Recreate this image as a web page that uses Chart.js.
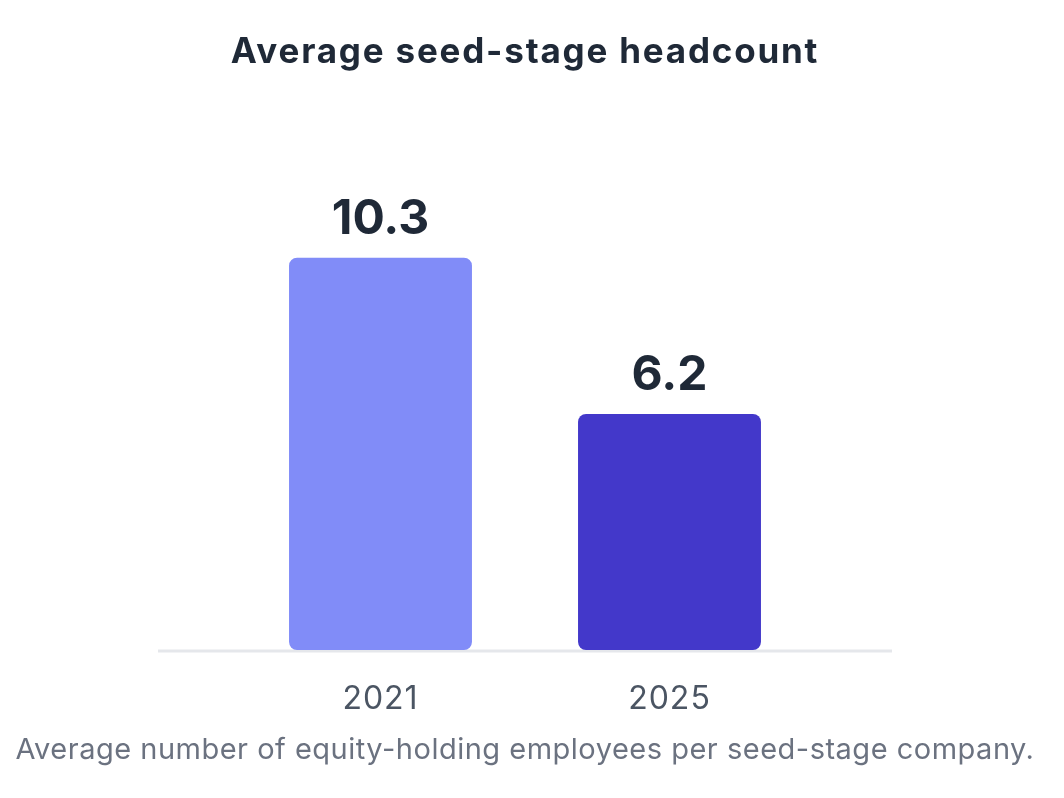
<!DOCTYPE html>
<html>
<head>
<meta charset="utf-8">
<script src="https://cdn.jsdelivr.net/npm/chart.js@4.4.1/dist/chart.umd.min.js"></script>
<style>
  html, body { margin: 0; padding: 0; background: #ffffff; }
  #wrap { position: relative; width: 1050px; height: 798px; }
</style>
</head>
<body>
<div id="wrap"><canvas id="chart"></canvas></div>
<script>
const years = ['2021', '2025'];
const headcount = [10.3, 6.2];
const barColors = ['#818cf8', '#4338ca'];
const chartTitle = 'Average seed-stage headcount';
const caption = 'Average number of equity-holding employees per seed-stage company.';

// title on top and caption at the bottom
const headings = {
    id: 'headings',
    beforeDraw(chart) {
        chart.ctx.letterSpacing = '1px';
    },
    afterDraw(chart) {
        const ctx = chart.ctx;
        const cx = (chart.chartArea.left + chart.chartArea.right) / 2;
        ctx.save();
        ctx.textAlign = 'center';
        ctx.textBaseline = 'alphabetic';
        ctx.letterSpacing = '1.8px';
        ctx.font = 'bold 35px Inter';
        ctx.fillStyle = '#1f2937';
        ctx.fillText(chartTitle, cx, 63);
        ctx.letterSpacing = '0.5px';
        ctx.font = '29px Inter';
        ctx.fillStyle = '#6b7280';
        ctx.fillText(caption, cx, 759);
        ctx.restore();
    }
};

// value labels above the bars
const valueLabels = {
    id: 'valueLabels',
    afterDatasetsDraw(chart) {
        const ctx = chart.ctx;
        const meta = chart.getDatasetMeta(0);
        ctx.save();
        ctx.letterSpacing = '0px';
        ctx.font = 'bold 48px Inter';
        ctx.fillStyle = '#1f2937';
        ctx.textAlign = 'center';
        ctx.textBaseline = 'alphabetic';
        meta.data.forEach((bar, i) => {
            ctx.fillText(headcount[i].toFixed(1), bar.x, bar.y - 24);
        });
        ctx.restore();
    }
};

// light baseline under the bars, a bit wider than the bar area
const baseline = {
    id: 'baseline',
    beforeDatasetsDraw(chart) {
        const ctx = chart.ctx;
        const area = chart.chartArea;
        const y = chart.scales.y.getPixelForValue(0);
        ctx.save();
        ctx.strokeStyle = '#e5e7eb';
        ctx.lineWidth = 3;
        ctx.beginPath();
        ctx.moveTo(area.left - 78, y + 1);
        ctx.lineTo(area.right + 78, y + 1);
        ctx.stroke();
        ctx.restore();
    }
};

const ctx = document.getElementById('chart').getContext('2d');
new Chart(ctx, {
    type: 'bar',
    data: {
        labels: years,
        datasets: [{
            data: headcount,
            backgroundColor: barColors,
            borderRadius: 8,
            borderSkipped: false,
            barPercentage: 0.633,
            categoryPercentage: 1
        }]
    },
    options: {
        responsive: true,
        maintainAspectRatio: false,
        animation: false,
        layout: { padding: { top: 193, bottom: 84, left: 236, right: 236 } },
        scales: {
            x: {
                grid: { display: false, drawTicks: false },
                border: { display: false },
                ticks: {
                    padding: 30,
                    color: '#4b5563',
                    font: { family: 'Inter', size: 32 }
                },
                afterFit(scale) { scale.height = 64; }
            },
            y: {
                display: false,
                min: 0,
                max: 12
            }
        },
        plugins: {
            legend: { display: false },
            tooltip: { enabled: false },
            title: { display: false }
        }
    },
    plugins: [baseline, valueLabels, headings]
});
</script>
</body>
</html>
